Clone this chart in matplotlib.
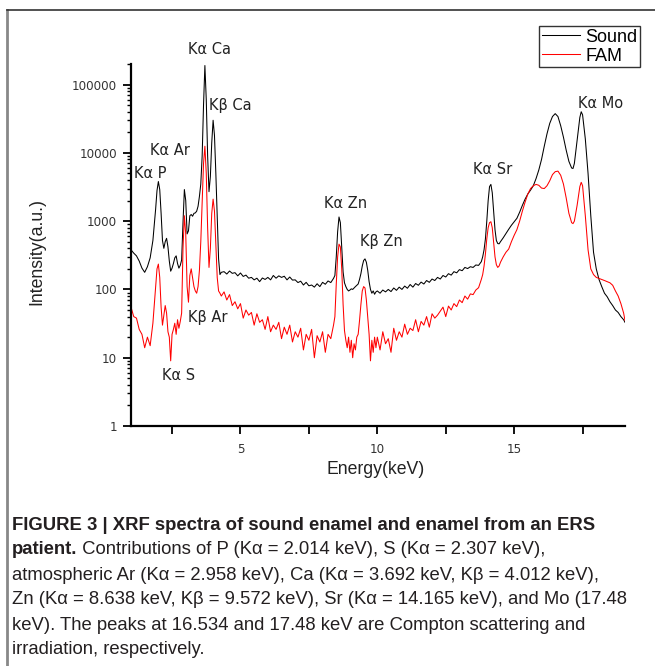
import matplotlib
matplotlib.use("Agg")
import matplotlib.pyplot as plt
from matplotlib.lines import Line2D
from matplotlib.ticker import FixedLocator, NullFormatter, LogLocator

# energy grid (keV) shared by both spectra
energy_kev = [
    1.0, 1.1, 1.2, 1.3, 1.4, 1.5, 1.6, 1.7, 1.8, 1.9,
    1.95, 2.0, 2.05, 2.1, 2.15, 2.2, 2.25, 2.3, 2.35, 2.4,
    2.45, 2.5, 2.55, 2.6, 2.65, 2.7, 2.75, 2.8, 2.85, 2.9,
    2.95, 3.0, 3.05, 3.1, 3.15, 3.2, 3.25, 3.3, 3.35, 3.4,
    3.45, 3.5, 3.55, 3.6, 3.65, 3.7, 3.75, 3.8, 3.85, 3.9,
    3.95, 4.0, 4.05, 4.1, 4.15, 4.2, 4.25, 4.3,
    4.4, 4.5, 4.6, 4.7, 4.8, 4.9, 5.0, 5.1, 5.2, 5.3,
    5.4, 5.5, 5.6, 5.7, 5.8, 5.9, 6.0, 6.1, 6.2, 6.3,
    6.4, 6.5, 6.6, 6.7, 6.8, 6.9, 7.0, 7.1, 7.2, 7.3,
    7.4, 7.5, 7.6, 7.7, 7.8, 7.9, 8.0, 8.1, 8.2, 8.3, 8.4,
    8.45, 8.5, 8.55, 8.6, 8.65, 8.7, 8.75, 8.8, 8.85, 8.9,
    8.95, 9.0, 9.05, 9.1, 9.15, 9.2, 9.25, 9.3, 9.35, 9.4,
    9.45, 9.5, 9.55, 9.6, 9.65, 9.7, 9.75, 9.8, 9.85, 9.9, 9.95,
    10.0, 10.1, 10.2, 10.3, 10.4, 10.5, 10.6, 10.7, 10.8, 10.9,
    11.0, 11.1, 11.2, 11.3, 11.4, 11.5, 11.6, 11.7, 11.8, 11.9,
    12.0, 12.1, 12.2, 12.3, 12.4, 12.5, 12.6, 12.7, 12.8, 12.9,
    13.0, 13.1, 13.2, 13.3, 13.4, 13.5, 13.6, 13.7, 13.8,
    13.85, 13.9, 13.95, 14.0, 14.05, 14.1, 14.15, 14.2, 14.25, 14.3,
    14.35, 14.4, 14.45, 14.5,
    14.6, 14.7, 14.8, 14.9, 15.0, 15.1, 15.2, 15.3, 15.4, 15.5,
    15.6, 15.7, 15.8, 15.9, 16.0, 16.1, 16.2, 16.3, 16.4, 16.5,
    16.6, 16.7, 16.8, 16.9, 17.0, 17.1,
    17.15, 17.2, 17.3, 17.4, 17.45, 17.5,
    17.6, 17.7, 17.8, 17.9, 18.0, 18.1, 18.2, 18.3, 18.4, 18.5,
    18.6, 18.7, 18.8, 18.9, 19.0, 19.05,
]

sound = [
    380, 340, 310, 260, 205, 178, 215, 290, 520, 1500,
    2800, 3800, 2900, 1300, 520, 400, 500, 560, 420, 260,
    185, 205, 240, 290, 310, 240, 205, 225, 270, 950,
    2900, 2000, 650, 720, 1200, 1250, 1180, 1300, 1320, 1400,
    1650, 2300, 3500, 9000, 50000, 190000, 60000, 9000, 2700, 4500,
    14000, 30000, 18000, 5000, 1200, 280, 165, 178,
    182, 168, 186, 172, 176, 158, 174, 155, 162, 146,
    150, 138, 146, 130, 147, 140, 150, 138, 160, 146,
    158, 150, 156, 138, 152, 137, 138, 126, 132, 116,
    127, 113, 116, 108, 121, 110, 127, 119, 133, 126, 145,
    160, 300, 700, 1150, 950, 400, 180, 125, 110, 100,
    95, 98, 102, 100, 105, 110, 115, 120, 140, 170,
    220, 265, 280, 250, 190, 130, 100, 88, 95, 85, 92,
    95, 88, 98, 92, 100, 93, 105, 97, 108, 100,
    112, 104, 118, 108, 122, 115, 128, 120, 135, 127,
    142, 135, 150, 142, 160, 152, 170, 162, 182, 175,
    195, 188, 210, 202, 215, 210, 228, 225, 255,
    300, 380, 550, 1000, 2000, 3200, 3450, 2600, 1400, 750,
    520, 470, 465, 500,
    570, 660, 760, 870, 980, 1100, 1350, 1700, 2100, 2500,
    2850, 3300, 4200, 5600, 8000, 12500, 19000, 27000, 34000, 37500,
    34000, 25000, 17000, 11000, 7500, 6000,
    5900, 7000, 15000, 33000, 40000, 36000,
    16000, 5000, 1200, 350, 200, 140, 110, 88, 78, 66,
    58, 50, 46, 40, 36, 33,
]

fam = [
    55, 40, 38, 26, 22, 14, 20, 15, 32, 110,
    200, 235, 150, 55, 30, 42, 58, 45, 24, 20,
    9, 22, 26, 32, 22, 36, 27, 34, 45, 400,
    1200, 650, 110, 65, 160, 200, 150, 110, 95, 88,
    110, 190, 500, 1800, 7000, 12500, 5000, 800, 210, 400,
    1300, 2100, 1400, 450, 150, 95, 88, 80,
    92, 70, 84, 58, 66, 52, 62, 38, 50, 42,
    46, 30, 44, 33, 36, 26, 40, 24, 30, 26,
    33, 19, 28, 22, 30, 17, 24, 20, 27, 13,
    22, 18, 26, 10, 21, 17, 24, 12, 22, 19, 30,
    40, 120, 300, 460, 420, 200, 60, 25, 18, 14,
    20, 12, 18, 10, 16, 13, 20, 22, 35, 60,
    95, 110, 105, 70, 40, 22, 9, 18, 12, 20, 14,
    20, 13, 24, 16, 19, 12, 27, 18, 24, 20,
    31, 22, 27, 25, 36, 24, 34, 30, 40, 28,
    44, 38, 42, 48, 55, 40, 57, 50, 62, 56,
    70, 64, 80, 72, 86, 84, 98, 106, 140,
    165, 220, 330, 550, 800, 950, 980, 800, 480, 300,
    230, 210, 220, 250,
    300, 350, 390, 500, 620, 750, 1000, 1400, 1900, 2500,
    3000, 3300, 3450, 3350, 3050, 3000, 3300, 3900, 4800, 5300,
    5400, 4700, 3500, 2200, 1300, 950,
    920, 1000, 1700, 3200, 3700, 3300,
    1200, 380, 200, 165, 150, 145, 140, 135, 130, 125,
    115, 95, 80, 62, 45, 35,
]

peak_labels = ["K\u03b1 P", "K\u03b1 Ar", "K\u03b1 Ca", "K\u03b2 Ca", "K\u03b2 Ar",
               "K\u03b1 S", "K\u03b1 Zn", "K\u03b2 Zn", "K\u03b1 Sr", "K\u03b1 Mo"]
label_pos = [(1.72, 5000), (2.41, 11000), (3.87, 330000), (4.64, 49000), (3.8, 39),
             (2.74, 5.5), (8.83, 1820), (10.15, 500), (14.2, 5770), (18.14, 52000)]

y_ticks = [1, 10, 100, 1000, 10000, 100000]
y_ticklabels = ["1", "10", "100", "1000", "10000", "100000"]
x_ticks = [5, 10, 15]
x_minor = [2.5, 7.5, 12.5, 17.5]

caption_lines = [
    "atmospheric Ar (K\u03b1 = 2.958 keV), Ca (K\u03b1 = 3.692 keV, K\u03b2 = 4.012 keV),",
    "Zn (K\u03b1 = 8.638 keV, K\u03b2 = 9.572 keV), Sr (K\u03b1 = 14.165 keV), and Mo (17.48",
    "keV). The peaks at 16.534 and 17.48 keV are Compton scattering and",
    "irradiation, respectively.",
]

W, H = 655, 666
fig = plt.figure(figsize=(W / 100, H / 100), dpi=100)
ax = fig.add_axes([131 / W, 1 - 426 / H, 494 / W, 362 / H])

ax.plot(energy_kev, sound, color="black", linewidth=0.75, label="Sound")
ax.plot(energy_kev, fam, color="red", linewidth=0.75, label="FAM")

ax.set_yscale("log")
ax.set_xlim(1.0, 19.05)
ax.set_ylim(1, 2e5)

for s in ["top", "right"]:
    ax.spines[s].set_visible(False)
for s in ["left", "bottom"]:
    ax.spines[s].set_linewidth(1.6)

ax.yaxis.set_major_locator(FixedLocator(y_ticks))
ax.set_yticklabels(y_ticklabels)
ax.yaxis.set_minor_locator(LogLocator(base=10, subs=range(2, 10)))
ax.yaxis.set_minor_formatter(NullFormatter())
ax.set_xticks(x_ticks)
ax.set_xticks(x_minor, minor=True)
ax.tick_params(axis="y", which="major", direction="out", length=6, width=1.3,
               labelsize=8.6, labelcolor="#333333", pad=4)
ax.tick_params(axis="y", which="minor", direction="out", length=3, width=1.0)
ax.tick_params(axis="x", which="both", direction="out", length=6, width=1.3,
               labelsize=8.6, labelcolor="#333333", pad=6)

ax.set_xlabel("Energy(keV)", fontfamily="Liberation Sans", fontsize=12.7, color="#222222")
ax.xaxis.set_label_coords(0.496, -0.12)
ax.xaxis.label.set_va("center")
ax.set_ylabel("Intensity(a.u.)", fontfamily="Liberation Sans", fontsize=12.7, color="#222222")
ax.yaxis.set_label_coords(-0.19, 0.483)
ax.yaxis.label.set_va("center")

for txt, (ex, iy) in zip(peak_labels, label_pos):
    ax.text(ex, iy, txt, ha="center", va="center", fontsize=10.5,
            color="#222222", clip_on=False)

leg = ax.legend(loc="upper left", bbox_to_anchor=(539 / W, 1 - 26 / H),
                bbox_transform=fig.transFigure, borderaxespad=0,
                prop={"family": "Liberation Sans", "size": 13},
                handlelength=2.1, handletextpad=0.3, labelspacing=0.1,
                borderpad=0.15, fancybox=False, framealpha=1)
leg.get_frame().set_edgecolor("#333333")
leg.get_frame().set_linewidth(1.0)

# outer figure frame
fig.add_artist(Line2D([7 / W, 7 / W], [0, 1 - 10 / H], color="#888888", linewidth=2))
fig.add_artist(Line2D([7 / W, 1], [1 - 10 / H, 1 - 10 / H], color="#333333", linewidth=1.2))

# caption
cap_size = 13.3
cap_color = "#231f20"
fig.text(12 / W, 1 - 525 / H, "FIGURE 3 | XRF spectra of sound enamel and enamel from an ERS",
         fontfamily="Liberation Sans", fontweight="bold", fontsize=cap_size,
         color=cap_color, va="center")
bold_part = fig.text(12 / W, 1 - 550 / H, "patient.", fontfamily="Liberation Sans",
                     fontweight="bold", fontsize=cap_size, color=cap_color, va="center")
renderer = fig.canvas.get_renderer()
bb = bold_part.get_window_extent(renderer)
fig.text(bb.x1 / W, 1 - 550 / H,
         " Contributions of P (K\u03b1 = 2.014 keV), S (K\u03b1 = 2.307 keV),",
         fontfamily="Liberation Sans", fontsize=cap_size, color=cap_color, va="center")
for i, line in enumerate(caption_lines):
    fig.text(12 / W, 1 - (575 + 25 * i) / H, line, fontfamily="Liberation Sans",
             fontsize=cap_size, color=cap_color, va="center")

fig.savefig("out.png", dpi=100)
